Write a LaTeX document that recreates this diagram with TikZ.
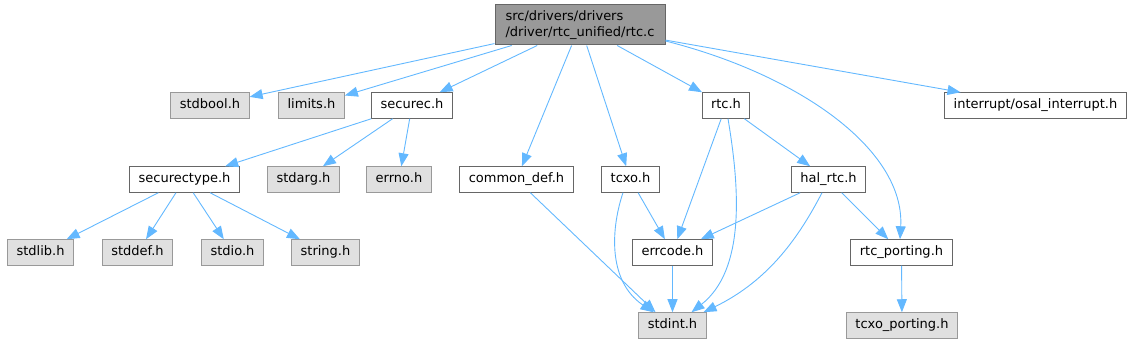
\documentclass[tikz,border=0pt]{standalone}
\usepackage{fontspec}
\setmainfont{DejaVu Sans}
\usepackage{xcolor}
\usetikzlibrary{positioning,arrows.meta,calc}
\definecolor{azul}{HTML}{63B8FF}
\definecolor{borde}{HTML}{666666}
\definecolor{bordesis}{HTML}{999999}
\definecolor{fondosis}{HTML}{E0E0E0}
\definecolor{fondoraiz}{HTML}{999999}

\begin{document}
\begin{tikzpicture}[x=1pt, y=-1pt,
  caja/.style={draw=borde, fill=white, line width=1pt, font=\fontsize{13}{16}\selectfont, minimum height=25.5pt, inner xsep=9pt, inner ysep=0pt, text height=9.8pt, text depth=2.8pt},
  sis/.style={caja, draw=bordesis, fill=fondosis},
  raiz/.style={draw=borde, fill=fondoraiz, line width=1pt, font=\fontsize{13}{16}\selectfont, align=left, minimum width=170pt, minimum height=40pt, inner xsep=9pt},
  flecha/.style={draw=azul, line width=0.9pt, -{Triangle[length=13pt, width=10pt]}}
]
\useasboundingbox (0,0) rectangle (1133,344);

% archivo principal
\node[raiz] (rtcc) at (580,25) {src/drivers/drivers\\/driver/rtc\_unified/rtc.c};

% primer nivel
\node[sis] (stdbool) at (210,105.5) {stdbool.h};
\node[sis] (limits) at (311.5,105.5) {limits.h};
\node[caja] (securec) at (412,105.5) {securec.h};
\node[caja] (rtch) at (726,105.5) {rtc.h};
\node[caja] (osal) at (1035.5,105.5) {interrupt/osal\_interrupt.h};

% segundo nivel
\node[caja] (securectype) at (184.5,179.5) {securectype.h};
\node[sis] (stdarg) at (303.5,179.5) {stdarg.h};
\node[sis] (errno) at (399,179.5) {errno.h};
\node[caja] (commondef) at (516.5,179.5) {common\_def.h};
\node[caja] (tcxo) at (630.5,179.5) {tcxo.h};
\node[caja] (halrtc) at (828.5,179.5) {hal\_rtc.h};

% tercer nivel
\node[sis] (stdlib) at (40.5,252.5) {stdlib.h};
\node[sis] (stddef) at (137.5,252.5) {stddef.h};
\node[sis] (stdio) at (232.5,252.5) {stdio.h};
\node[sis] (string) at (325.5,252.5) {string.h};
\node[caja] (errcode) at (672.5,252.5) {errcode.h};
\node[caja] (rtcporting) at (901.5,252.5) {rtc\_porting.h};

% cuarto nivel
\node[sis] (stdint) at (672.5,325.5) {stdint.h};
\node[sis] (tcxoporting) at (902,325.5) {tcxo\_porting.h};

% dependencias de rtc.c
\draw[flecha] (rtcc) -- (stdbool);
\draw[flecha] (rtcc) -- (limits);
\draw[flecha] (rtcc) -- (securec);
\draw[flecha] (rtcc) -- (commondef);
\draw[flecha] (rtcc) -- (tcxo);
\draw[flecha] (rtcc) -- (rtch);
\draw[flecha] (rtcc) -- (osal);
\draw[flecha] ([yshift=-16pt]rtcc.east) .. controls (800,75) and (905,150) .. ([xshift=-1.5pt]rtcporting.north);

% securec.h
\draw[flecha] (securec) -- (securectype);
\draw[flecha] (securec) -- (stdarg);
\draw[flecha] (securec) -- (errno);
\foreach \destino in {stdlib,stddef,stdio,string}
  \draw[flecha] (securectype) -- (\destino);

% rtc.h y compañía
\draw[flecha] (commondef) -- ([xshift=-17pt]stdint.north);
\draw[flecha] (tcxo) -- (errcode);
\draw[flecha] ([xshift=-7.5pt]tcxo.south) .. controls (612,225) and (606,280) .. ([xshift=-19pt]stdint.north);
\draw[flecha] (rtch) -- (errcode);
\draw[flecha] (rtch) -- (halrtc);
\draw[flecha] ([xshift=2pt]rtch.south) .. controls (740,190) and (745,270) .. ([xshift=19pt]stdint.north);
\draw[flecha] (halrtc) -- (errcode);
\draw[flecha] (halrtc) -- (rtcporting);
\draw[flecha] ([xshift=-6.5pt]halrtc.south) .. controls (800,235) and (770,280) .. ([xshift=31pt]stdint.north);
\draw[flecha] (errcode) -- (stdint);
\draw[flecha] (rtcporting) -- (tcxoporting);
\end{tikzpicture}
\end{document}
